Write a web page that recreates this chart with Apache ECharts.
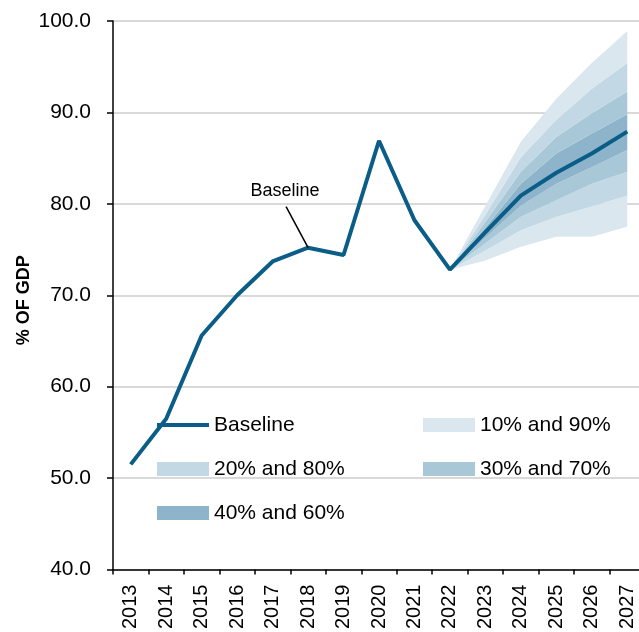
<!DOCTYPE html>
<html>
<head>
<meta charset="utf-8">
<script src="https://cdn.jsdelivr.net/npm/echarts@6/dist/echarts.min.js"></script>
<style>
  html, body { margin: 0; padding: 0; background: #fff; overflow: hidden; }
  #chart { width: 660px; height: 632px; }
</style>
</head>
<body>
<div id="chart"></div>
<script>
const years = ['2013', '2014', '2015', '2016', '2017', '2018', '2019', '2020', '2021', '2022', '2023', '2024', '2025', '2026', '2027'];
const baseline = [51.5, 56.5, 65.6, 70.0, 73.7, 75.2, 74.4, 86.9, 78.2, 72.8, 76.9, 80.9, 83.4, 85.5, 87.9];

// fan percentiles, 2022..2027
const p10 = [72.8, 73.8, 75.3, 76.4, 76.4, 77.5];
const p20 = [72.8, 74.9, 77.1, 78.6, 79.7, 80.9];
const p30 = [72.8, 75.7, 78.6, 80.4, 82.2, 83.5];
const p40 = [72.8, 76.3, 79.8, 82.2, 84.0, 85.9];
const p60 = [72.8, 77.4, 82.2, 85.5, 87.7, 89.8];
const p70 = [72.8, 78.0, 83.5, 87.3, 89.9, 92.3];
const p80 = [72.8, 78.8, 85.1, 89.2, 92.6, 95.4];
const p90 = [72.8, 79.8, 86.8, 91.5, 95.4, 98.9];

const bandColors = {
  '10% and 90%': '#DAE7EF',
  '20% and 80%': '#C2D8E4',
  '30% and 70%': '#A8C7D7',
  '40% and 60%': '#8DB4CA'
};
const lineColor = '#0A5D86';
const font = 'Liberation Sans, Arial, sans-serif';
// thin bar in a 52x14 box, so the legend shows a plain line
const lineIcon = 'path://M0,0L0.01,0L0.01,0.01Z M0,5h52v4H0Z M0,14L0.01,14L0.01,13.99Z';

const lead = years.length - p10.length;
function pad(arr) {
  return new Array(lead).fill(null).concat(arr);
}
function diff(hi, lo) {
  return pad(hi.map((v, i) => +(v - lo[i]).toFixed(2)));
}

const bands = [
  [p10, p20, '10% and 90%'],
  [p20, p30, '20% and 80%'],
  [p30, p40, '30% and 70%'],
  [p40, p60, '40% and 60%'],
  [p60, p70, '30% and 70%'],
  [p70, p80, '20% and 80%'],
  [p80, p90, '10% and 90%']
];

let series = [{
  name: '_base',
  type: 'line',
  stack: 'fan',
  symbol: 'none',
  lineStyle: { width: 0, opacity: 0 },
  data: pad(p10),
  z: 1
}];
bands.forEach(b => {
  const c = bandColors[b[2]];
  series.push({
    name: b[2],
    type: 'line',
    stack: 'fan',
    symbol: 'none',
    color: c,
    itemStyle: { color: c },
    lineStyle: { width: 0 },
    areaStyle: { color: c, opacity: 1 },
    data: diff(b[1], b[0]),
    z: 1
  });
});
series.push({
  name: 'Baseline',
  type: 'line',
  symbol: 'none',
  color: lineColor,
  itemStyle: { color: lineColor },
  lineStyle: { color: lineColor, width: 4 },
  data: baseline,
  z: 5
});

const legendBase = {
  orient: 'vertical',
  padding: 0,
  itemGap: 22,
  itemWidth: 52,
  itemHeight: 14,
  selectedMode: false,
  textStyle: { fontFamily: font, fontSize: 21, color: '#000', lineHeight: 22 }
};

let myChart = echarts.init(document.getElementById('chart'), null, { renderer: 'canvas' });
let option = {
  animation: false,
  backgroundColor: '#fff',
  grid: { left: 113, top: 21, width: 532, height: 549 },
  legend: [
    Object.assign({}, legendBase, {
      left: 157, top: 414,
      data: [
        { name: 'Baseline', icon: lineIcon },
        { name: '20% and 80%', icon: 'rect' },
        { name: '40% and 60%', icon: 'rect' }
      ]
    }),
    Object.assign({}, legendBase, {
      left: 423, top: 414,
      data: [
        { name: '10% and 90%', icon: 'rect' },
        { name: '30% and 70%', icon: 'rect' }
      ]
    })
  ],
  xAxis: {
    type: 'category',
    data: years,
    boundaryGap: true,
    axisLine: { show: true, lineStyle: { color: '#000', width: 1.5 } },
    axisTick: { show: true, interval: 0, length: 5, lineStyle: { color: '#000', width: 1.5 } },
    axisLabel: { interval: 0, rotate: 90, margin: 15, fontFamily: font, fontSize: 20, color: '#000' },
    splitLine: { show: false }
  },
  yAxis: {
    type: 'value',
    min: 40,
    max: 100,
    interval: 10,
    name: '% OF GDP',
    nameLocation: 'middle',
    nameRotate: 90,
    nameGap: 80,
    nameMoveOverlap: false,
    nameTextStyle: { fontFamily: font, fontSize: 18, fontWeight: 'bold', color: '#000', padding: [0, 0, 0, -10] },
    axisLine: { show: true, lineStyle: { color: '#000', width: 1.5 } },
    axisTick: { show: true, length: 6, lineStyle: { color: '#000', width: 1.5 } },
    axisLabel: {
      margin: 22,
      fontFamily: font,
      fontSize: 21,
      color: '#000',
      formatter: v => v.toFixed(1)
    },
    splitLine: { show: true, lineStyle: { color: '#D9D9D9', width: 2 } }
  },
  series: series
};
myChart.setOption(option);

// "Baseline" call-out pointing at the 2018 value
const anchor = myChart.convertToPixel({ gridIndex: 0 }, ['2018', baseline[5]]);
myChart.setOption({
  graphic: [
    {
      type: 'line',
      shape: { x1: anchor[0] - 22, y1: anchor[1] - 41, x2: anchor[0], y2: anchor[1] },
      style: { stroke: '#000', lineWidth: 1.5 },
      z: 10
    },
    {
      type: 'text',
      x: anchor[0] - 23,
      y: anchor[1] - 57,
      style: {
        text: 'Baseline',
        fontFamily: font,
        fontSize: 18,
        fill: '#000',
        align: 'center',
        verticalAlign: 'middle'
      },
      z: 10
    }
  ]
});
</script>
</body>
</html>
